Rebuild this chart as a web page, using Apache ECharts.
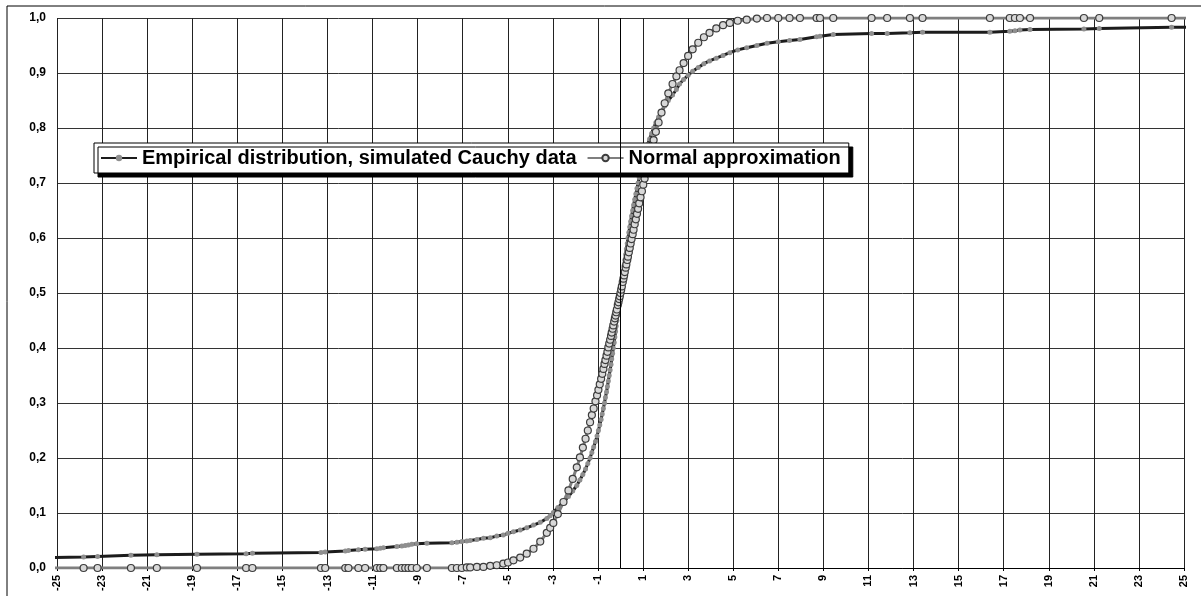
<!DOCTYPE html>
<html>
<head>
<meta charset="utf-8">
<script src="https://cdn.jsdelivr.net/npm/echarts@6/dist/echarts.min.js"></script>
<style>
  html, body { margin: 0; padding: 0; background: #fff; }
  #chart { width: 1201px; height: 596px; }
</style>
</head>
<body>
<div id="chart"></div>
<script>
// sorted sample values (simulated Cauchy data), shared by both curves
const sampleX = [
  -27, -23.82, -23.2, -21.72, -20.57, -18.79, -16.61, -16.33, -13.29, -13.1,
  -12.21, -12.07, -11.63, -11.33, -10.81, -10.66, -10.52, -9.92, -9.7, -9.55,
  -9.41, -9.26, -9.04, -8.59, -7.48, -7.26, -7.04, -6.82, -6.67, -6.37,
  -6.08, -5.78, -5.49, -5.2, -4.99, -4.75, -4.45, -4.16, -3.86, -3.56,
  -3.27, -3.12, -2.98, -2.78, -2.53, -2.31, -2.12, -1.94, -1.8, -1.67,
  -1.55, -1.45, -1.35, -1.27, -1.19, -1.11, -1.04, -0.98, -0.92, -0.86,
  -0.81, -0.76, -0.71, -0.67, -0.62, -0.58, -0.54, -0.5, -0.46, -0.42,
  -0.39, -0.35, -0.32, -0.28, -0.25, -0.22, -0.19, -0.16, -0.12, -0.09,
  -0.06, -0.03, 0, 0.03, 0.06, 0.1, 0.13, 0.16, 0.19, 0.23,
  0.26, 0.3, 0.33, 0.37, 0.41, 0.45, 0.49, 0.54, 0.58, 0.63,
  0.68, 0.73, 0.78, 0.83, 0.89, 0.95, 1.01, 1.07, 1.14, 1.21,
  1.29, 1.38, 1.47, 1.57, 1.69, 1.82, 1.96, 2.12, 2.31, 2.48,
  2.62, 2.8, 3, 3.2, 3.45, 3.7, 3.95, 4.25, 4.55, 4.85,
  5.2, 5.6, 6.05, 6.5, 7, 7.5, 7.96, 8.7, 8.85, 9.44,
  11.14, 11.83, 12.84, 13.4, 16.39, 17.27, 17.5, 17.72, 18.17, 20.56,
  21.24, 24.45, 27
];

// empirical distribution function at each sample value
const empiricalCdf = [
  0.018, 0.020, 0.021, 0.023, 0.024, 0.025, 0.026, 0.027, 0.028, 0.029,
  0.031, 0.032, 0.033, 0.034, 0.035, 0.036, 0.037, 0.039, 0.040, 0.041,
  0.042, 0.043, 0.044, 0.045, 0.046, 0.047, 0.048, 0.049, 0.050, 0.052,
  0.054, 0.055, 0.058, 0.060, 0.063, 0.066, 0.069, 0.073, 0.078, 0.083,
  0.090, 0.095, 0.101, 0.110, 0.120, 0.130, 0.140, 0.150, 0.160, 0.170,
  0.180, 0.190, 0.200, 0.210, 0.220, 0.230, 0.240, 0.250, 0.260, 0.270,
  0.280, 0.290, 0.300, 0.310, 0.320, 0.330, 0.340, 0.350, 0.360, 0.370,
  0.380, 0.390, 0.400, 0.410, 0.420, 0.430, 0.440, 0.450, 0.460, 0.470,
  0.480, 0.490, 0.500, 0.510, 0.520, 0.530, 0.540, 0.550, 0.560, 0.570,
  0.580, 0.590, 0.600, 0.610, 0.620, 0.630, 0.640, 0.650, 0.660, 0.670,
  0.680, 0.690, 0.700, 0.710, 0.720, 0.730, 0.740, 0.750, 0.760, 0.770,
  0.780, 0.790, 0.800, 0.810, 0.820, 0.830, 0.840, 0.850, 0.860, 0.870,
  0.880, 0.888, 0.896, 0.903, 0.910, 0.917, 0.922, 0.927, 0.932, 0.937,
  0.942, 0.946, 0.950, 0.954, 0.957, 0.959, 0.961, 0.966, 0.967, 0.970,
  0.972, 0.972, 0.973, 0.974, 0.974, 0.976, 0.977, 0.978, 0.979, 0.980,
  0.981, 0.983, 0.984
];

// normal approximation at each sample value
const normalCdf = [
  0, 0, 0, 0, 0, 0, 0, 0, 0, 0,
  0, 0, 0, 0, 0, 0, 0, 0, 0, 0,
  0, 0, 0, 0, 0, 0, 0, 0.001, 0.001, 0.002,
  0.002, 0.004, 0.005, 0.008, 0.010, 0.014, 0.019, 0.026, 0.035, 0.048,
  0.064, 0.073, 0.082, 0.098, 0.120, 0.141, 0.162, 0.183, 0.201, 0.219,
  0.235, 0.250, 0.265, 0.278, 0.290, 0.303, 0.314, 0.324, 0.334, 0.344,
  0.353, 0.362, 0.371, 0.378, 0.386, 0.393, 0.401, 0.408, 0.415, 0.422,
  0.428, 0.435, 0.441, 0.448, 0.454, 0.459, 0.465, 0.470, 0.478, 0.483,
  0.489, 0.494, 0.500, 0.506, 0.512, 0.520, 0.526, 0.532, 0.538, 0.546,
  0.552, 0.560, 0.566, 0.574, 0.582, 0.590, 0.598, 0.607, 0.615, 0.625,
  0.634, 0.644, 0.653, 0.663, 0.674, 0.685, 0.697, 0.708, 0.721, 0.734,
  0.748, 0.763, 0.778, 0.793, 0.810, 0.828, 0.845, 0.863, 0.880, 0.894,
  0.905, 0.918, 0.931, 0.943, 0.955, 0.965, 0.973, 0.981, 0.987, 0.991,
  0.995, 0.997, 0.999, 1, 1, 1, 1, 1, 1, 1,
  1, 1, 1, 1, 1, 1, 1, 1, 1, 1,
  1, 1, 1
];

const seriesNames = ['Empirical distribution, simulated Cauchy data', 'Normal approximation'];

const FONT = '"Liberation Sans", Arial, sans-serif';

const chart = echarts.init(document.getElementById('chart'));

const option = {
  animation: false,
  backgroundColor: '#fff',
  grid: { left: 57, right: 17, top: 18, bottom: 28 },
  // outer chart frame
  graphic: [{
    type: 'rect',
    shape: { x: 7, y: 6, width: 1300, height: 700 },
    style: { fill: 'none', stroke: '#000', lineWidth: 1 },
    silent: true
  }],
  legend: {
    left: 94,
    top: 143,
    backgroundColor: '#fff',
    borderColor: '#000',
    borderWidth: 1,
    borderRadius: 0,
    shadowColor: '#000',
    shadowBlur: 0,
    shadowOffsetX: 4,
    shadowOffsetY: 4,
    padding: [5, 8, 5, 6],
    itemGap: 10,
    itemWidth: 36,
    itemHeight: 8,
    textStyle: { fontFamily: FONT, fontWeight: 'bold', fontSize: 20, color: '#000' },
    data: seriesNames
  },
  xAxis: {
    type: 'value',
    min: -25,
    max: 25,
    interval: 2,
    axisLine: { onZero: false, lineStyle: { color: '#000', width: 1 } },
    axisTick: { show: true, length: 3, lineStyle: { color: '#000' } },
    axisLabel: {
      rotate: 90,
      margin: 7,
      fontFamily: FONT,
      fontWeight: 'bold',
      fontSize: 11,
      color: '#000'
    },
    splitLine: { show: true, lineStyle: { color: '#222', width: 1 } }
  },
  yAxis: {
    type: 'value',
    min: 0,
    max: 1,
    interval: 0.1,
    axisLine: { show: false, onZero: false },
    axisTick: { show: false },
    axisLabel: {
      margin: 11,
      fontFamily: FONT,
      fontWeight: 'bold',
      fontSize: 12,
      color: '#000',
      formatter: v => v.toFixed(1).replace('.', ',')
    },
    splitLine: { show: true, lineStyle: { color: '#333', width: 1 } }
  },
  series: [
    {
      name: seriesNames[0],
      type: 'line',
      data: sampleX.map((x, i) => [x, empiricalCdf[i]]),
      symbol: 'circle',
      symbolSize: 5,
      showAllSymbol: true,
      lineStyle: { color: '#1c1c1c', width: 3 },
      itemStyle: { color: '#8f8f8f', borderWidth: 0 },
      clip: true,
      z: 2,
      // vertical axis line crossing at x = 0
      markLine: {
        silent: true,
        symbol: ['none', 'none'],
        label: { show: false },
        lineStyle: { color: '#000', width: 1, type: 'solid' },
        data: [{ xAxis: 0 }]
      }
    },
    {
      name: seriesNames[1],
      type: 'line',
      data: sampleX.map((x, i) => [x, normalCdf[i]]),
      symbol: 'circle',
      symbolSize: 7,
      showAllSymbol: true,
      lineStyle: { color: '#7f7f7f', width: 3 },
      itemStyle: { color: '#d8d8d8', borderColor: '#3c3c3c', borderWidth: 1.2 },
      clip: true,
      z: 3
    }
  ]
};

chart.setOption(option);
</script>
</body>
</html>
